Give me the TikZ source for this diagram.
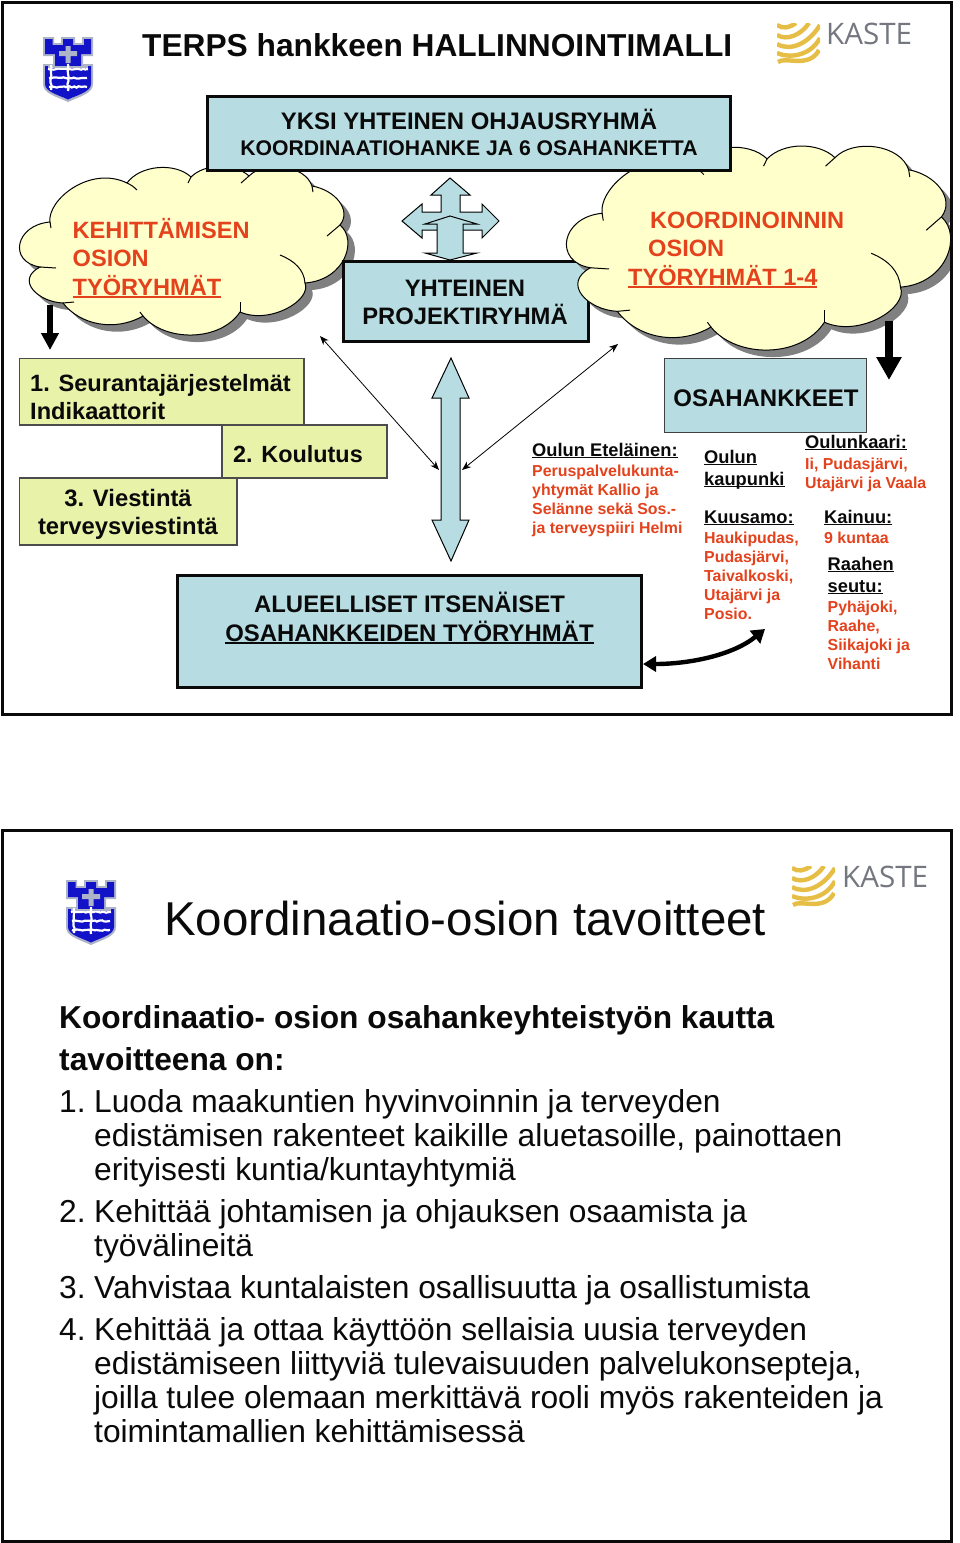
\documentclass[tikz,border=0pt]{standalone}
\usepackage{fontspec}
\setmainfont{Liberation Sans}
\newfontfamily\logofont{Open Sans}
\usetikzlibrary{arrows.meta,decorations.pathmorphing}
\definecolor{boxblue}{HTML}{B7DDE2}
\definecolor{boxgreen}{HTML}{E9F2A9}
\definecolor{cloudfill}{HTML}{FFFFCC}
\definecolor{redtxt}{HTML}{E4421C}
\definecolor{inktxt}{HTML}{0A0A0A}
\definecolor{goldw}{HTML}{E6BE45}
\definecolor{kastegray}{HTML}{74777F}
\definecolor{shieldblue}{HTML}{1212C8}
\definecolor{shieldgray}{HTML}{AEB4C8}
\newlength\ulw
\newcommand\ulin[1]{\settowidth\ulw{#1}\rlap{\rule[-0.11em]{\ulw}{0.075em}}#1}
\newcommand\fs[2]{\fontsize{#1pt}{#2pt}\selectfont}
\newcommand\cloudpath{(50,222) .. controls (47,200) and (90,165) .. (127,183)
 .. controls (140,165) and (175,162) .. (191,177) .. controls (205,163) and (235,163) .. (249,176)
 .. controls (265,160) and (305,165) .. (312,186)
 .. controls (335,190) and (352,210) .. (340,225) .. controls (358,240) and (345,280) .. (305,283)
 .. controls (312,300) and (270,325) .. (240,312) .. controls (220,342) and (165,342) .. (143,316)
 .. controls (115,332) and (80,325) .. (63,303) .. controls (38,302) and (15,280) .. (40,267)
 .. controls (8,262) and (15,225) .. (50,222) -- cycle}
\newcommand\cloudtails{
 \draw[cloudline] (50,222) -- (51,228);
 \draw[cloudline] (127,183) to[bend left=10] (137,190);
 \draw[cloudline] (191,177) -- (188,183);
 \draw[cloudline] (249,176) -- (241,183);
 \draw[cloudline] (312,186) -- (313,192);
 \draw[cloudline] (340,225) -- (327,236);
 \draw[cloudline] (305,283) .. controls (304,270) and (295,261) .. (280,255);
 \draw[cloudline] (240,312) -- (240,302);
 \draw[cloudline] (143,316) -- (140,312);
 \draw[cloudline] (63,303) -- (74,302);
 \draw[cloudline] (40,267) -- (56,268);
}
\tikzset{
 x=1pt,y=-1pt,
 cloudline/.style={draw=black,line width=1},
 bluebox/.style={draw=inktxt,fill=boxblue,line width=3.2,inner sep=0pt},
 thinblue/.style={draw=black!75,fill=boxblue,line width=1.1,inner sep=0pt},
 greenbox/.style={draw=black!70,fill=boxgreen,line width=1.1,inner sep=0pt},
 frame/.style={draw=inktxt,line width=3},
 lbl/.style={inner sep=0pt,anchor=base,align=center,text=inktxt,font=\bfseries},
 lbll/.style={inner sep=0pt,anchor=base west,align=left,text=inktxt,font=\bfseries},
 blockarrow/.style={draw=black,fill=boxblue,line width=1},
 thick arrow/.style={line width=6,draw=black},
 thin arrow/.style={line width=.8,draw=black,{Stealth[length=9pt,width=7pt]}-{Stealth[length=9pt,width=7pt]}},
 shieldlogo/.pic={
  \fill[shieldgray] (0,0) -- (11,0) -- (11,6) -- (18,6) -- (18,0) -- (32,0) -- (32,6) -- (39,6) -- (39,0) -- (50,0) -- (50,19) -- (40,19) -- (40,27) -- (50,27) -- (50,47) .. controls (50,57) and (35,60) .. (25,65) .. controls (15,60) and (0,57) .. (0,47) -- (0,27) -- (10,27) -- (10,19) -- (0,19) -- cycle;
  \fill[shieldblue] (2,2) -- (9.5,2) -- (9.5,8) -- (20,8) -- (20,2) -- (30,2) -- (30,8) -- (41,8) -- (41,2) -- (48,2) -- (48,17) -- (38,17) -- (38,29) -- (48,29) -- (48,47) .. controls (48,55) and (34,58) .. (25,62.5) .. controls (16,58) and (2,55) .. (2,47) -- (2,29) -- (12,29) -- (12,17) -- (2,17) -- cycle;
  \fill[shieldgray] (22.5,9) rectangle (27.5,26) (16,14) rectangle (34,19);
  \draw[white,line width=2.2,decorate,decoration={random steps,segment length=2.5pt,amplitude=.7pt}] (5,32) -- (45,32) (6,41) -- (44,41) (6,50) -- (44,50);
  \draw[shieldgray,line width=1.3] (5,30) -- (45,30);
  \draw[white,line width=2.2,decorate,decoration={random steps,segment length=2.5pt,amplitude=.6pt}] (8,28) -- (8,53) (25,27) -- (25,54);
 },
 kastewaves/.pic={
  \begin{scope}
  \clip (0,0) rectangle (43,40);
  \draw[goldw,line width=4.4]
   (0,2) .. controls (6,6) and (12,5) .. (19,0)
   (0,12) .. controls (10,18) and (24,12) .. (32,0)
   (0,21) .. controls (14,29) and (32,20) .. (43,2)
   (0,30) .. controls (14,36) and (34,32) .. (43,15)
   (1,39) .. controls (8,33) and (32,46) .. (42,27);
  \end{scope}
 },
}
\begin{document}
\begin{tikzpicture}
\useasboundingbox (0,0) rectangle (960,1543);
\fill[white] (0,0) rectangle (960,1543);

% ---------- left cloud
\begin{scope}[shift={(7,7)}]
 \fill[black!50] \cloudpath;
\end{scope}
\filldraw[fill=cloudfill,cloudline] \cloudpath;
\cloudtails

% joint project box
\node[bluebox,minimum width=245pt,minimum height=80pt] (proj) at (466,301.5) {};

% ---------- right cloud
\begin{scope}
 \clip (0,0) rectangle (952,1543);
 \begin{scope}[shift={(550.6,-48.3)},xscale=1.17,yscale=1.21]
  \fill[black!50] \cloudpath;
 \end{scope}
 \begin{scope}[shift={(543.6,-55.3)},xscale=1.17,yscale=1.21]
  \filldraw[fill=cloudfill,cloudline] \cloudpath;
  \cloudtails
 \end{scope}
\end{scope}

% boxes
\node[bluebox,minimum width=522.6pt,minimum height=73.6pt] (yksi) at (469,133.5) {};
\node[bluebox,minimum width=464pt,minimum height=112pt] (alue) at (409.5,631.5) {};
\node[thinblue,minimum width=202pt,minimum height=74pt] (osa) at (765.5,395.5) {};
\node[greenbox,minimum width=284.5pt,minimum height=66.5pt] (g1) at (161.75,391.75) {};
\node[greenbox,minimum width=165pt,minimum height=53pt] (g2) at (304.5,451.5) {};
\node[greenbox,minimum width=217.5pt,minimum height=67pt] (g3) at (128.25,511.5) {};

% block arrows
\draw[blockarrow] (450,178) -- (470,195) -- (460,195) -- (460,212) -- (482,212) -- (482,204) -- (499,221) -- (482,238) -- (482,230) -- (460,230) -- (460,240) -- (441,240) -- (441,230) -- (422,230) -- (422,238) -- (402,221) -- (422,204) -- (422,212) -- (441,212) -- (441,195) -- (431,195) -- cycle;
\draw[blockarrow] (450,216) -- (477,224) -- (463,224) -- (463,253) -- (477,253) -- (450,260) -- (425,253) -- (437,253) -- (437,224) -- (425,224) -- cycle;
\draw[blockarrow] (451,358) -- (469,398) -- (460,398) -- (460,520) -- (469,520) -- (451,561) -- (432,520) -- (441,520) -- (441,398) -- (432,398) -- cycle;

% connectors
\coordinate (tl) at (320,336);
\coordinate (tr) at (618,344);
\coordinate (ml) at (439,470);
\coordinate (mr) at (462,470);
\draw[thin arrow] (tl) -- (ml);
\draw[thin arrow] (tr) -- (mr);
\coordinate (a1s) at (50,305);
\coordinate (a1e) at (50,350);
\coordinate (a2s) at (889,321);
\coordinate (a2e) at (889,380);
\draw[thick arrow,-{Triangle[length=17pt,width=17pt]}] (a1s) -- (a1e);
\draw[line width=8,draw=black,-{Triangle[length=23pt,width=24pt]}] (a2s) -- (a2e);
\coordinate (c1) at (643,664);
\coordinate (c2) at (765,629);
\draw[line width=4.4,{Triangle[length=13pt,width=15pt]}-{Triangle[length=13pt,width=16pt]}] (c1) .. controls (690,664) and (733,655) .. (c2);

% frames
\draw[frame] (2,2) rectangle (951,714);
\draw[frame] (2,830) rectangle (951,1541);

% logos
\pic at (43,37) {shieldlogo};
\pic at (66,880) {shieldlogo};
\pic at (777,23) {kastewaves};
\pic at (792,866) {kastewaves};
\node[inner sep=0pt,anchor=base west,text=kastegray,font=\logofont\fs{29.6}{28}] (k1) at (826,44) {KASTE};
\node[inner sep=0pt,anchor=base west,text=kastegray,font=\logofont\fs{29.6}{28}] (k2) at (842,887) {KASTE};

% slide 1 text
\node[lbll,font=\bfseries\fs{31.7}{32}] (title) at (142,56) {TERPS hankkeen HALLINNOINTIMALLI};
\node[lbl,font=\bfseries\fs{23.9}{27}] (t1) at (469,129) {YKSI YHTEINEN OHJAUSRYHMÄ};
\node[lbl,font=\bfseries\fs{21.2}{27}] (t2) at (469,155.5) {KOORDINAATIOHANKE JA 6 OSAHANKETTA};
\node[lbl,font=\bfseries\fs{23.8}{28}] (t3) at (465,296.5) {YHTEINEN};
\node[lbl,font=\bfseries\fs{23.8}{28}] (t4) at (465,324.5) {PROJEKTIRYHMÄ};
\node[lbll,text=redtxt,font=\bfseries\fs{23.6}{28.3}] (kehi) at (72.5,295.2) {KEHITTÄMISEN\\OSION\\\ulin{TYÖRYHMÄT}};
\node[lbll,text=redtxt,font=\bfseries\fs{23.6}{28.5}] (koord) at (628,285) {\hspace*{22pt}KOORDINOINNIN\\\hspace*{20pt}OSION\\\ulin{TYÖRYHMÄT 1-4}};
\node[lbll,font=\bfseries\fs{23.6}{28}] (l1) at (30,419.5) {1. Seurantajärjestelmät\\Indikaattorit};
\node[lbll,font=\bfseries\fs{23.4}{28}] (l2) at (233,462.5) {2. Koulutus};
\node[lbl,font=\bfseries\fs{23.8}{28}] (l3) at (128,534.5) {3. Viestintä\\terveysviestintä};
\node[lbl,font=\bfseries\fs{23.9}{29}] (l4) at (409.5,641) {ALUEELLISET ITSENÄISET\\\ulin{OSAHANKKEIDEN TYÖRYHMÄT}};
\node[lbl,font=\bfseries\fs{24}{28}] (l5) at (766,406) {OSAHANKKEET};

\node[lbll,font=\bfseries\fs{18.3}{19}] (e1) at (532,456) {\ulin{Oulun Eteläinen:}};
\node[lbll,text=redtxt,font=\bfseries\fs{15.9}{19}] (e2) at (532,533) {Peruspalvelukunta-\\yhtymät Kallio ja\\Selänne sekä Sos.-\\ja terveyspiiri Helmi};
\node[lbll,font=\bfseries\fs{18.3}{22}] (o1) at (704,485) {\ulin{Oulun}\\\ulin{kaupunki}};
\node[lbll,font=\bfseries\fs{18.3}{19}] (k3) at (805,448) {\ulin{Oulunkaari:}};
\node[lbll,text=redtxt,font=\bfseries\fs{15.9}{19}] (k4) at (805,488) {Ii, Pudasjärvi,\\Utajärvi ja Vaala};
\node[lbll,font=\bfseries\fs{18.3}{19}] (k5) at (704,523) {\ulin{Kuusamo:}};
\node[lbll,text=redtxt,font=\bfseries\fs{15.9}{19}] (k6) at (704,619) {Haukipudas,\\Pudasjärvi,\\Taivalkoski,\\Utajärvi ja\\Posio.};
\node[lbll,font=\bfseries\fs{18.3}{19}] (k7) at (824,523) {\ulin{Kainuu:}};
\node[lbll,text=redtxt,font=\bfseries\fs{15.9}{19}] (k8) at (824,543) {9 kuntaa};
\node[lbll,font=\bfseries\fs{18.3}{22}] (r1) at (827.5,592) {\ulin{Raahen}\\\ulin{seutu:}};
\node[lbll,text=redtxt,font=\bfseries\fs{15.9}{19}] (r2) at (827.5,669) {Pyhäjoki,\\Raahe,\\Siikajoki ja\\Vihanti};

% slide 2 text
\node[lbll,font=\fs{47.5}{49}] (title2) at (164,935) {Koordinaatio-osion tavoitteet};
\node[lbll,font=\bfseries\fs{31.7}{42}] (b0) at (59,1070) {Koordinaatio- osion osahankeyhteistyön kautta\\tavoitteena on:};
\node[lbll,font=\fs{31.75}{34}] (b1) at (59,1180) {\makebox[35pt][l]{1.}Luoda maakuntien hyvinvoinnin ja terveyden\\\hspace*{35pt}edistämisen rakenteet kaikille aluetasoille, painottaen\\\hspace*{35pt}erityisesti kuntia/kuntayhtymiä};
\node[lbll,font=\fs{31.75}{34}] (b2) at (59,1256) {\makebox[35pt][l]{2.}Kehittää johtamisen ja ohjauksen osaamista ja\\\hspace*{35pt}työvälineitä};
\node[lbll,font=\fs{31.75}{34}] (b3) at (59,1298) {\makebox[35pt][l]{3.}Vahvistaa kuntalaisten osallisuutta ja osallistumista};
\node[lbll,font=\fs{31.75}{34}] (b4) at (59,1442) {\makebox[35pt][l]{4.}Kehittää ja ottaa käyttöön sellaisia uusia terveyden\\\hspace*{35pt}edistämiseen liittyviä tulevaisuuden palvelukonsepteja,\\\hspace*{35pt}joilla tulee olemaan merkittävä rooli myös rakenteiden ja\\\hspace*{35pt}toimintamallien kehittämisessä};
\end{tikzpicture}
\end{document}
